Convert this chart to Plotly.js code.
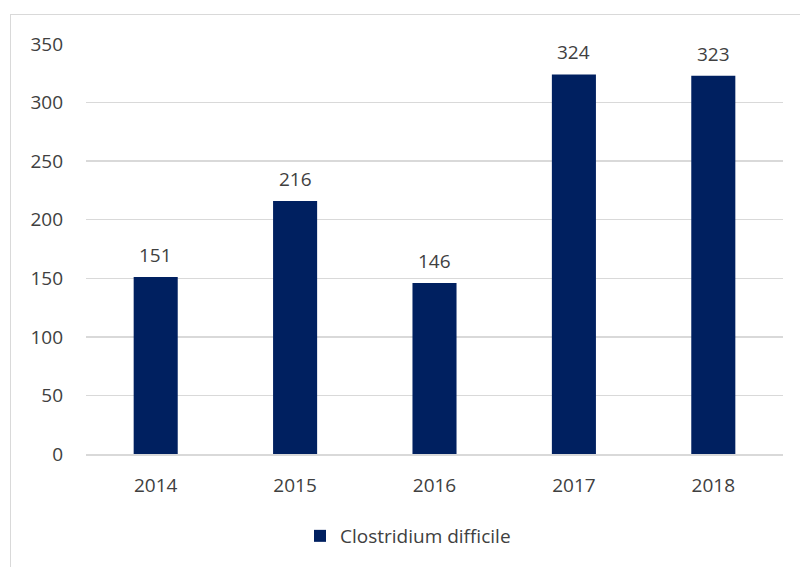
<!DOCTYPE html>
<html><head><meta charset="utf-8">
<script src="https://cdn.plot.ly/plotly-3.0.1.min.js"></script>
<style>
html,body{margin:0;padding:0;background:#fff;overflow:hidden;}
#frame{position:absolute;left:10px;top:14px;width:820px;height:620px;border:1.5px solid #d9d9d9;box-sizing:border-box;}
#chart{position:absolute;left:0;top:0;width:800px;height:567px;}
</style></head><body>
<div id="frame"></div>
<div id="chart"></div>
<script>
const categories = ['2014','2015','2016','2017','2018'];
const values = [151, 216, 146, 324, 323];
const seriesName = 'Clostridium difficile';
const yTicks = [0,50,100,150,200,250,300,350];

const font = {family:'Open Sans, Liberation Sans, sans-serif', size:19, color:'#404040'};
const trace = {
  type:'bar', x:categories, y:values, name:seriesName,
  marker:{color:'#002060'}, hoverinfo:'none'
};
const annotations = categories.map((c,i)=>({
  x:i, y:values[i], xref:'x', yref:'y', text:String(values[i]), showarrow:false,
  yanchor:'middle', yshift:22, font:font
}));
const layout = {
  width:800, height:567,
  margin:{l:86, r:17, t:44, b:113},
  paper_bgcolor:'rgba(0,0,0,0)', plot_bgcolor:'rgba(0,0,0,0)',
  font:font,
  bargap:0.684,
  showlegend:true,
  legend:{orientation:'h', x:0.462, xanchor:'center', y:-0.2, yanchor:'middle', font:font},
  xaxis:{type:'category', range:[-0.5,4.5], autorange:false, showgrid:false, showline:true, linecolor:'#d9d9d9', linewidth:1.5, ticks:'', ticklabelstandoff:14, tickfont:font, zeroline:false},
  yaxis:{range:[0,350], autorange:false, tickvals:yTicks, showgrid:true, gridcolor:'#d9d9d9', gridwidth:1.5, zeroline:false, ticks:'', ticklabelstandoff:22, tickfont:font, showline:false},
  annotations:annotations
};
Plotly.newPlot('chart',[trace],layout,{displayModeBar:false, staticPlot:true});
</script></body></html>
